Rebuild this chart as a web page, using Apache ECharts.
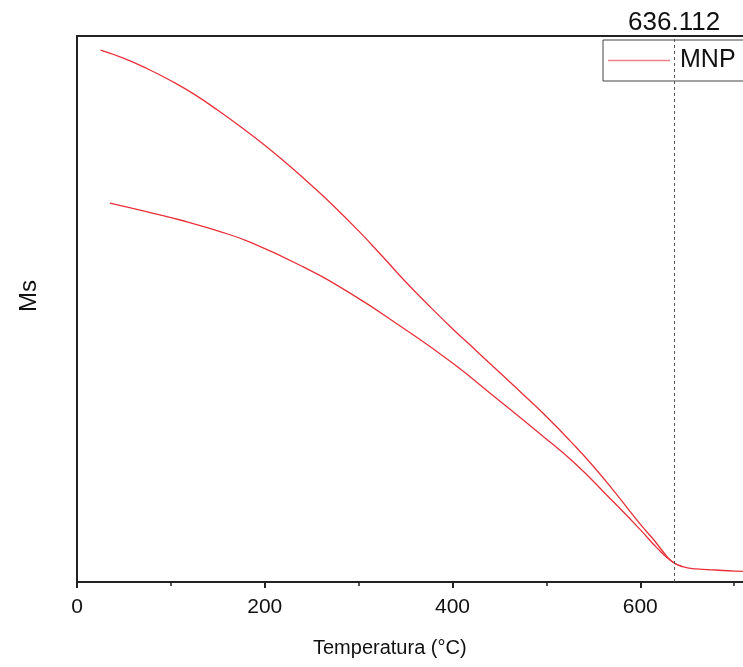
<!DOCTYPE html>
<html lang="es">
<head>
    <meta charset="UTF-8">
    <title>Ms vs Temperatura - MNP</title>
    <script src="https://cdn.jsdelivr.net/npm/echarts@6/dist/echarts.min.js"></script>
    <style>
        html, body { margin: 0; padding: 0; background: #fff; overflow: hidden; }
        /* el gráfico original está recortado por la derecha */
        #chart { width: 850px; height: 667px; }
    </style>
</head>
<body>
<div id="chart"></div>
<script>
    // curva superior (calentamiento)
    const upperTemp = [25, 50, 75, 100, 125, 150, 175, 200, 225, 250, 275, 300, 325, 350, 375, 400, 425, 450, 475, 500, 525, 550, 575, 600, 615, 625, 635, 645, 660, 680, 700, 740, 780];
    const upperMs = [97.4, 95.9, 94.0, 91.8, 89.3, 86.4, 83.3, 80.0, 76.4, 72.6, 68.6, 64.3, 59.7, 55.0, 50.6, 46.4, 42.4, 38.4, 34.4, 30.3, 25.9, 21.2, 16.0, 10.6, 7.6, 5.4, 3.6, 2.8, 2.4, 2.2, 2.0, 1.9, 1.8];

    // curva inferior (enfriamiento)
    const lowerTemp = [35, 75, 110, 150, 185, 240, 290, 345, 400, 445, 495, 530, 565, 600, 618, 635, 645];
    const lowerMs = [69.4, 67.8, 66.3, 64.3, 62.2, 57.8, 53.0, 46.8, 40.1, 33.9, 26.9, 21.8, 15.8, 9.6, 6.2, 3.6, 2.8];

    const curieTemp = 636.112;

    const font = 'Liberation Sans, Arial, sans-serif';
    const red = '#e8303a';

    const zip = (xs, ys) => xs.map((x, i) => [x, ys[i]]);

    const chart = echarts.init(document.getElementById('chart'));
    chart.setOption({
        animation: false,
        textStyle: { fontFamily: font },
        title: {
            text: 'Temperatura (°C)',
            left: 313,
            top: 638,
            padding: 0,
            textStyle: { fontFamily: font, fontSize: 20, fontWeight: 'normal', color: '#111' }
        },
        legend: {
            data: ['MNP'],
            left: 603,
            top: 40,
            padding: [8, 20, 8, 5],
            borderColor: '#444',
            borderWidth: 1,
            icon: 'rect',
            itemWidth: 62,
            itemHeight: 1.5,
            itemStyle: { color: '#ef8088' },
            textStyle: { fontFamily: font, fontSize: 25, color: '#111', padding: [0, 0, 0, 5] }
        },
        grid: {
            left: 77,
            top: 36,
            bottom: 85,
            right: 22,
            show: true,
            borderColor: '#222',
            borderWidth: 2
        },
        xAxis: {
            type: 'value',
            min: 0,
            max: 800,
            interval: 200,
            axisLine: { lineStyle: { color: '#222', width: 2 } },
            axisTick: { inside: false, length: 6, lineStyle: { color: '#222', width: 2 } },
            minorTick: { show: true, splitNumber: 2, length: 4, lineStyle: { color: '#222', width: 1.5 } },
            axisLabel: { fontSize: 21, color: '#111', margin: 15 },
            splitLine: { show: false }
        },
        yAxis: {
            type: 'value',
            min: 0,
            max: 100,
            name: 'Ms',
            nameLocation: 'middle',
            nameRotate: 90,
            nameGap: 36,
            nameTextStyle: { fontFamily: font, fontSize: 24, color: '#111', padding: [0, 0, 0, 26] },
            axisLine: { show: true, lineStyle: { color: '#222', width: 2 } },
            axisTick: { show: false },
            axisLabel: { show: false },
            splitLine: { show: false }
        },
        series: [
            {
                name: 'MNP',
                type: 'line',
                data: zip(upperTemp, upperMs),
                smooth: 0.5,
                symbol: 'none',
                lineStyle: { color: red, width: 1.3 },
                itemStyle: { color: red },
                markLine: {
                    silent: true,
                    symbol: 'none',
                    data: [{ xAxis: curieTemp }],
                    lineStyle: { color: '#555', width: 1, type: [3, 3] },
                    label: {
                        position: 'end',
                        distance: 0,
                        formatter: '636.112',
                        fontFamily: font,
                        fontSize: 26,
                        color: '#111'
                    }
                }
            },
            {
                name: 'MNP',
                type: 'line',
                data: zip(lowerTemp, lowerMs),
                smooth: 0.5,
                symbol: 'none',
                lineStyle: { color: red, width: 1.3 },
                itemStyle: { color: red }
            }
        ]
    });
</script>
</body>
</html>
